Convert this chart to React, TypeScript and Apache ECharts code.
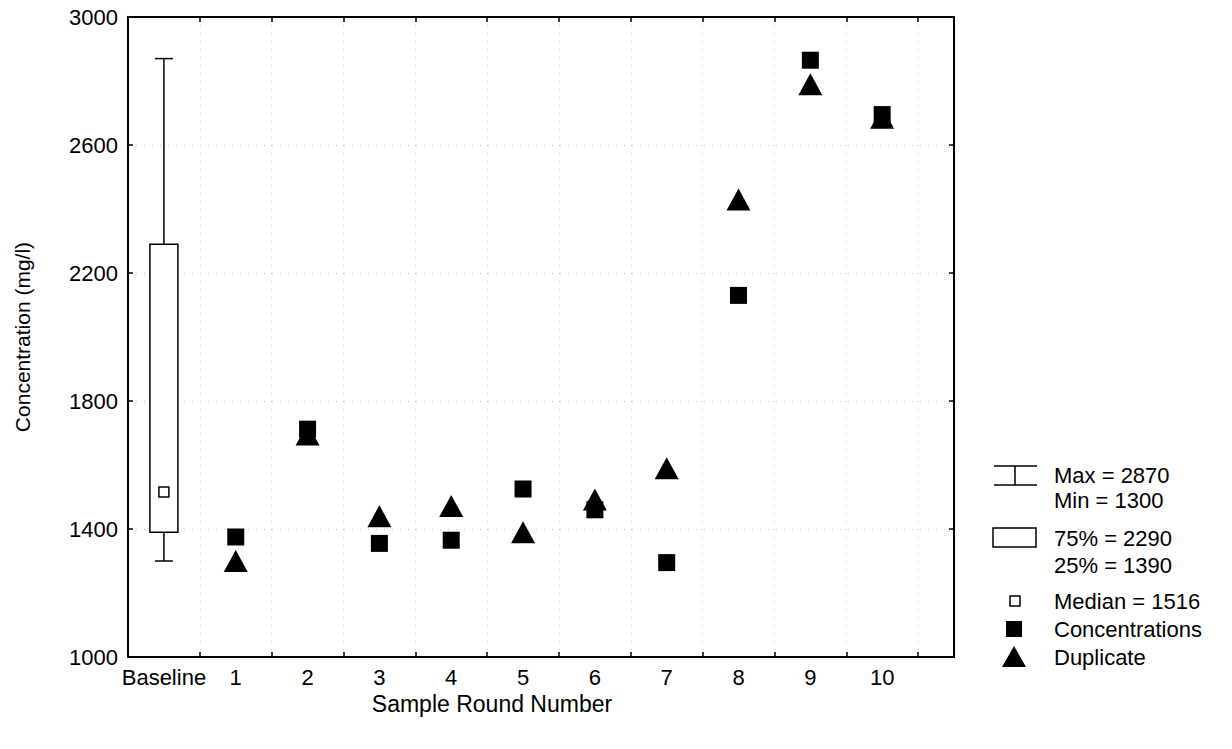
import React, { useEffect, useRef } from "react";
import * as echarts from "echarts";

// ---- data ----
const xLabelValues = [0, 1, 2, 3, 4, 5, 6, 7, 8, 9, 10];
const xLabelNames = ["Baseline", "1", "2", "3", "4", "5", "6", "7", "8", "9", "10"];
const xTickValues = [0.5, 1.5, 2.5, 3.5, 4.5, 5.5, 6.5, 7.5, 8.5, 9.5, 10.5];
const roundNumbers = [1, 2, 3, 4, 5, 6, 7, 8, 9, 10];
const concentrations = [1375, 1712, 1355, 1365, 1525, 1460, 1295, 2130, 2865, 2695];
const duplicates = [1300, 1695, 1440, 1472, 1390, 1492, 1590, 2430, 2790, 2685];
// baseline statistics: min, q1, median, q3, max
const baselineStats = [1300, 1390, 1516, 2290, 2870];
const yTicks = [1000, 1400, 1800, 2200, 2600, 3000];

const FONT = '"Liberation Sans", Arial, sans-serif';

export default function App() {
  const ref = useRef<HTMLDivElement>(null);

  useEffect(() => {
    if (!ref.current) return;
    const chart = echarts.init(ref.current, undefined, { renderer: "svg" });
    const [bMin, bQ1, bMed, bQ3, bMax] = baselineStats;

    const gridLeft = 128;
    const gridTop = 17;
    const gridRight = 1232 - 954;
    const gridBottom = 749 - 657;

    const legendX = 1054;
    const legendText = (text: string, y: number) => ({
      type: "text",
      style: {
        text,
        x: legendX,
        y,
        fill: "#000",
        fontSize: 22,
        fontFamily: FONT,
        verticalAlign: "middle",
      },
    });

    const option: any = {
      animation: false,
      backgroundColor: "#fff",
      grid: {
        left: gridLeft,
        top: gridTop,
        right: gridRight,
        bottom: gridBottom,
        containLabel: false,
        outerBoundsMode: "none",
      },
      xAxis: [
        {
          type: "value",
          min: -0.5,
          max: 11,
          position: "bottom",
          name: "Sample Round Number",
          nameLocation: "middle",
          nameGap: 33,
          nameTextStyle: {
            fontSize: 23,
            fontFamily: FONT,
            color: "#000",
            padding: [0, 98, 0, 0],
          },
          axisLine: { show: true, onZero: false, lineStyle: { color: "#000", width: 2 } },
          axisTick: {
            show: true,
            inside: true,
            length: 5,
            customValues: xTickValues,
            lineStyle: { color: "#000", width: 1.5 },
          },
          axisLabel: {
            show: true,
            customValues: xLabelValues,
            margin: 9,
            fontSize: 22,
            fontFamily: FONT,
            color: "#000",
            formatter: (v: number) => xLabelNames[xLabelValues.indexOf(Math.round(v))] ?? "",
          },
          splitLine: {
            show: true,
            lineStyle: { color: "#bbb", width: 1, type: [1, 7] },
          },
        },
        {
          type: "value",
          min: -0.5,
          max: 11,
          position: "top",
          axisLine: { show: true, onZero: false, lineStyle: { color: "#000", width: 2 } },
          axisTick: {
            show: true,
            inside: true,
            length: 5,
            customValues: xTickValues,
            lineStyle: { color: "#000", width: 1.5 },
          },
          axisLabel: { show: false },
          splitLine: { show: false },
        },
      ],
      yAxis: [
        {
          type: "value",
          min: 1000,
          max: 3000,
          interval: 400,
          position: "left",
          name: "Concentration (mg/l)",
          nameLocation: "middle",
          nameGap: 95,
          nameTextStyle: { fontSize: 21, fontFamily: FONT, color: "#000" },
          axisLine: { show: true, onZero: false, lineStyle: { color: "#000", width: 2 } },
          axisTick: { show: true, inside: true, length: 5, lineStyle: { color: "#000", width: 1.5 } },
          axisLabel: {
            show: true,
            margin: 10,
            fontSize: 22,
            fontFamily: FONT,
            color: "#000",
            customValues: yTicks,
            formatter: (v: number) => String(v),
          },
          splitLine: { show: true, lineStyle: { color: "#bbb", width: 1, type: [1, 7] } },
        },
        {
          type: "value",
          min: 1000,
          max: 3000,
          interval: 400,
          position: "right",
          axisLine: { show: true, onZero: false, lineStyle: { color: "#000", width: 2 } },
          axisTick: { show: true, inside: true, length: 5, lineStyle: { color: "#000", width: 1.5 } },
          axisLabel: { show: false },
          splitLine: { show: false },
        },
      ],
      series: [
        {
          type: "custom",
          name: "Baseline",
          xAxisIndex: 0,
          yAxisIndex: 0,
          z: 3,
          data: [[0, bMin, bQ1, bMed, bQ3, bMax]],
          encode: { x: 0, y: [1, 2, 3, 4, 5] },
          renderItem: (_params: any, api: any) => {
            const x = api.value(0);
            const lo = api.coord([x, api.value(1)]);
            const q1 = api.coord([x, api.value(2)]);
            const q3 = api.coord([x, api.value(4)]);
            const hi = api.coord([x, api.value(5)]);
            const unit = api.size([1, 0])[0];
            const bw = unit * 0.39;
            const cw = unit * 0.25;
            const cx = lo[0];
            const st = { stroke: "#000", lineWidth: 1.5, fill: "none" };
            return {
              type: "group",
              children: [
                { type: "line", shape: { x1: cx, y1: hi[1], x2: cx, y2: q3[1] }, style: st },
                { type: "line", shape: { x1: cx - cw / 2, y1: hi[1], x2: cx + cw / 2, y2: hi[1] }, style: st },
                { type: "line", shape: { x1: cx, y1: q1[1], x2: cx, y2: lo[1] }, style: st },
                { type: "line", shape: { x1: cx - cw / 2, y1: lo[1], x2: cx + cw / 2, y2: lo[1] }, style: st },
                {
                  type: "rect",
                  shape: { x: cx - bw / 2, y: q3[1], width: bw, height: q1[1] - q3[1] },
                  style: { fill: "#fff", stroke: "#000", lineWidth: 1.5 },
                },
              ],
            };
          },
        },
        {
          type: "scatter",
          name: "Median",
          z: 4,
          symbol: "rect",
          symbolSize: 10,
          itemStyle: { color: "#fff", borderColor: "#000", borderWidth: 1.5, opacity: 1 },
          data: [[0, bMed]],
        },
        {
          type: "scatter",
          name: "Duplicate",
          z: 5,
          symbol: "triangle",
          symbolSize: [24, 22],
          itemStyle: { color: "#000", opacity: 1 },
          data: roundNumbers.map((r, i) => [r, duplicates[i]]),
        },
        {
          type: "scatter",
          name: "Concentrations",
          z: 6,
          symbol: "rect",
          symbolSize: 17,
          itemStyle: { color: "#000", opacity: 1 },
          data: roundNumbers.map((r, i) => [r, concentrations[i]]),
        },
      ],
      graphic: [
        // whisker icon
        { type: "line", shape: { x1: 994, y1: 466, x2: 1037, y2: 466 }, style: { stroke: "#000", lineWidth: 1.5 } },
        { type: "line", shape: { x1: 994, y1: 485, x2: 1037, y2: 485 }, style: { stroke: "#000", lineWidth: 1.5 } },
        { type: "line", shape: { x1: 1015, y1: 466, x2: 1015, y2: 485 }, style: { stroke: "#000", lineWidth: 1.5 } },
        legendText(`Max = ${bMax}`, 475),
        legendText(`Min = ${bMin}`, 500),
        // box icon
        {
          type: "rect",
          shape: { x: 993, y: 528, width: 43, height: 19 },
          style: { fill: "#fff", stroke: "#000", lineWidth: 1.5 },
        },
        legendText(`75% = ${bQ3}`, 538),
        legendText(`25% = ${bQ1}`, 565),
        // median icon
        {
          type: "rect",
          shape: { x: 1010, y: 596, width: 10, height: 10 },
          style: { fill: "#fff", stroke: "#000", lineWidth: 1.5 },
        },
        legendText(`Median = ${bMed}`, 601),
        // concentrations icon
        { type: "rect", shape: { x: 1006, y: 621, width: 16, height: 16 }, style: { fill: "#000" } },
        legendText("Concentrations", 629),
        // duplicate icon
        {
          type: "polygon",
          shape: { points: [[1014, 646], [1002, 667], [1026, 667]] },
          style: { fill: "#000" },
        },
        legendText("Duplicate", 657),
      ],
    };

    chart.setOption(option);
    return () => chart.dispose();
  }, []);

  return (
    <div
      ref={ref}
      style={{ position: "absolute", left: 0, top: 0, width: 1232, height: 749, background: "#fff" }}
    />
  );
}
